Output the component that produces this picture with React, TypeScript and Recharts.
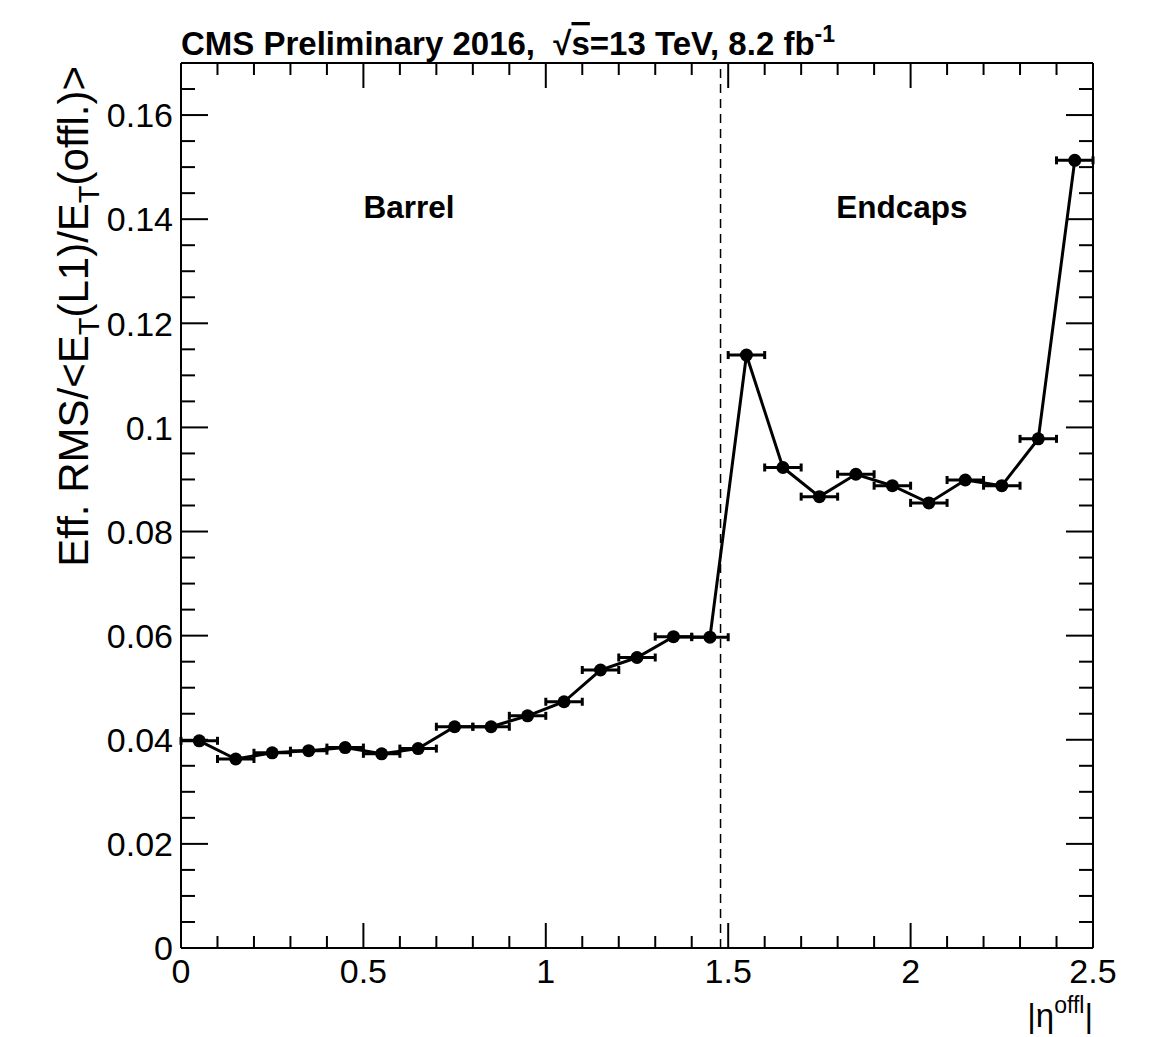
import React from "react";
import {
  ComposedChart, Line, Scatter, XAxis, YAxis, ErrorBar, ReferenceLine, ReferenceDot, Label,
} from "recharts";

// |eta| bin centres (bin width 0.1) and effective RMS of E_T(L1)/E_T(offl.)
const etaCenters = [
  0.05, 0.15, 0.25, 0.35, 0.45, 0.55, 0.65, 0.75, 0.85, 0.95,
  1.05, 1.15, 1.25, 1.35, 1.45, 1.55, 1.65, 1.75, 1.85, 1.95,
  2.05, 2.15, 2.25, 2.35, 2.45,
];
const effRms = [
  0.0398, 0.0363, 0.0375, 0.0379, 0.0385, 0.0373, 0.0383, 0.0425, 0.0425, 0.0446,
  0.0473, 0.0534, 0.0558, 0.0598, 0.0597, 0.1139, 0.0923, 0.0867, 0.0910, 0.0888,
  0.0855, 0.0899, 0.0888, 0.0978, 0.1513,
];
const binHalfWidth = [
  0.05, 0.05, 0.05, 0.05, 0.05, 0.05, 0.05, 0.05, 0.05, 0.05,
  0.05, 0.05, 0.05, 0.05, 0.05, 0.05, 0.05, 0.05, 0.05, 0.05,
  0.05, 0.05, 0.05, 0.05, 0.05,
];

const xMajorTicks = [0, 0.5, 1, 1.5, 2, 2.5];
const yMajorTicks = [0, 0.02, 0.04, 0.06, 0.08, 0.1, 0.12, 0.14, 0.16];
const barrelEndcapBoundary = 1.479;

const FONT = "'Liberation Sans', Arial, Helvetica, sans-serif";

// minor ticks fill in between the majors (ROOT style)
const xTicks = Array.from({ length: 26 }, (_, i) => Math.round(i * 10) / 100);
const yTicks = Array.from({ length: 35 }, (_, i) => Math.round(i * 5) / 1000);

const isMajor = (v: number, list: number[]) => list.some((m) => Math.abs(m - v) < 1e-9);
const fmt = (v: number) => String(Number(v.toFixed(3)));

const data = etaCenters.map((eta, i) => ({
  eta,
  rms: effRms[i],
  xErr: binHalfWidth[i],
}));

const LeftTick = (props: any) => {
  const { x, y, payload } = props;
  const major = isMajor(payload.value, yMajorTicks);
  return (
    <g>
      <line x1={x} x2={x + (major ? 27 : 14)} y1={y} y2={y} stroke="#000" strokeWidth={2} />
      {major && (
        <text x={x - 8} y={y} dy="0.36em" textAnchor="end" fontSize={34} fontFamily={FONT} fill="#000">
          {fmt(payload.value)}
        </text>
      )}
    </g>
  );
};

const RightTick = (props: any) => {
  const { x, y, payload } = props;
  const major = isMajor(payload.value, yMajorTicks);
  return <line x1={x} x2={x - (major ? 27 : 14)} y1={y} y2={y} stroke="#000" strokeWidth={2} />;
};

const BottomTick = (props: any) => {
  const { x, y, payload } = props;
  const major = isMajor(payload.value, xMajorTicks);
  return (
    <g>
      <line x1={x} x2={x} y1={y} y2={y - (major ? 25 : 12)} stroke="#000" strokeWidth={2} />
      {major && (
        <text x={x} y={y + 35} textAnchor="middle" fontSize={34} fontFamily={FONT} fill="#000">
          {fmt(payload.value)}
        </text>
      )}
    </g>
  );
};

const TopTick = (props: any) => {
  const { x, y, payload } = props;
  const major = isMajor(payload.value, xMajorTicks);
  return <line x1={x} x2={x} y1={y} y2={y + (major ? 25 : 12)} stroke="#000" strokeWidth={2} />;
};

const TitleLabel = () => (
  <text x={181} y={55} fontSize={33} fontWeight="bold" fontFamily={FONT} fill="#000">
    CMS Preliminary 2016,{"\u00a0\u00a0"}√<tspan style={{ textDecoration: "overline" }}>s</tspan>=13 TeV, 8.2 fb
    <tspan dy={-13} fontSize={23}>-1</tspan>
  </text>
);

const YTitle = () => (
  <text
    transform="translate(88, 66) rotate(-90)"
    textAnchor="end"
    fontSize={42}
    fontFamily={FONT}
    fill="#000"
  >
    Eff. RMS/&lt;E<tspan dy={11} fontSize={29}>T</tspan>
    <tspan dy={-11}>(L1)/E</tspan>
    <tspan dy={11} fontSize={29}>T</tspan>
    <tspan dy={-11}>(offl.)&gt;</tspan>
  </text>
);

const XTitle = () => (
  <text x={1093} y={1027} textAnchor="end" fontSize={33} fontFamily={FONT} fill="#000">
    |η<tspan dy={-14} fontSize={23}>offl</tspan>
    <tspan dy={14}>|</tspan>
  </text>
);

const PointShape = (props: any) => <circle cx={props.cx} cy={props.cy} r={6.5} fill="#000" />;

export default function App() {
  return (
    <div style={{ position: "absolute", left: 0, top: 0, background: "#fff" }}>
      <ComposedChart width={1151} height={1037} data={data} margin={{ top: 62, right: 57, bottom: 0, left: 0 }}>
        <XAxis
          dataKey="eta"
          type="number"
          domain={[0, 2.5]}
          ticks={xTicks}
          interval={0}
          allowDataOverflow
          height={89}
          tickSize={0}
          tickMargin={0}
          tick={<BottomTick />}
          axisLine={{ stroke: "#000", strokeWidth: 2 }}
          label={<Label content={<XTitle />} />}
        />
        <XAxis
          xAxisId="top"
          orientation="top"
          dataKey="eta"
          type="number"
          domain={[0, 2.5]}
          ticks={xTicks}
          interval={0}
          allowDataOverflow
          height={1}
          tickSize={0}
          tickMargin={0}
          tick={<TopTick />}
          axisLine={{ stroke: "#000", strokeWidth: 2 }}
          label={<Label content={<TitleLabel />} />}
        />
        <YAxis
          type="number"
          domain={[0, 0.17]}
          ticks={yTicks}
          interval={0}
          allowDataOverflow
          width={181}
          tickSize={0}
          tickMargin={0}
          tick={<LeftTick />}
          axisLine={{ stroke: "#000", strokeWidth: 2 }}
          label={<Label content={<YTitle />} />}
        />
        <YAxis
          yAxisId="right"
          orientation="right"
          type="number"
          domain={[0, 0.17]}
          ticks={yTicks}
          interval={0}
          allowDataOverflow
          width={1}
          tickSize={0}
          tickMargin={0}
          tick={<RightTick />}
          axisLine={{ stroke: "#000", strokeWidth: 2 }}
        />
        <ReferenceLine x={barrelEndcapBoundary} stroke="#000" strokeWidth={1.5} strokeDasharray="9 6" />
        <ReferenceDot
          x={0.625}
          y={0.1423}
          r={0}
          fill="none"
          stroke="none"
          label={{ value: "Barrel", position: "center", fontSize: 31.5, fontWeight: "bold", fill: "#000", fontFamily: FONT }}
        />
        <ReferenceDot
          x={1.976}
          y={0.1423}
          r={0}
          fill="none"
          stroke="none"
          label={{ value: "Endcaps", position: "center", fontSize: 31.5, fontWeight: "bold", fill: "#000", fontFamily: FONT }}
        />
        <Line
          type="linear"
          dataKey="rms"
          stroke="#000"
          strokeWidth={3}
          dot={false}
          activeDot={false}
          isAnimationActive={false}
        />
        <Scatter dataKey="rms" shape={<PointShape />} isAnimationActive={false}>
          <ErrorBar dataKey="xErr" direction="x" width={4} stroke="#000" strokeWidth={3} />
        </Scatter>
      </ComposedChart>
    </div>
  );
}
